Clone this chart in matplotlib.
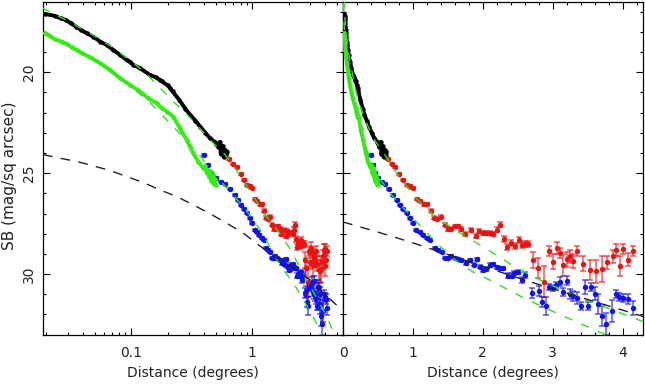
import matplotlib
matplotlib.use("Agg")
import matplotlib.pyplot as plt
from matplotlib.ticker import FixedLocator, NullFormatter, MultipleLocator, LogLocator, FixedFormatter

# ---------------- data ----------------
# inner profile 1 (black points)
black_r = [0.0195, 0.0236, 0.0263, 0.029, 0.0318, 0.0352, 0.0385, 0.0432, 0.049, 0.0555,
           0.063, 0.0715, 0.0812, 0.092, 0.0981, 0.1045, 0.1186, 0.143, 0.16, 0.173, 0.18,
           0.20, 0.21, 0.22, 0.25, 0.28, 0.307, 0.34, 0.371, 0.41, 0.448, 0.49, 0.50,
           0.52, 0.54, 0.55, 0.57, 0.58, 0.60, 0.61, 0.62]
black_sb = [17.11, 17.21, 17.33, 17.41, 17.57, 17.74, 17.90, 18.07, 18.24, 18.48,
            18.65, 18.90, 19.14, 19.39, 19.48, 19.64, 19.80, 20.13, 20.25, 20.38, 20.45,
            20.65, 20.79, 20.95, 21.37, 21.80, 22.11, 22.40, 22.69, 23.00, 23.27, 23.45, 23.55,
            23.68, 23.45, 24.05, 23.65, 24.20, 23.85, 24.10, 23.95]

# inner profile 2 (green points)
green_r = [0.0195, 0.0236, 0.0268, 0.0295, 0.0324, 0.0357, 0.0393, 0.0459, 0.0555, 0.0671,
           0.0812, 0.0981, 0.119, 0.139, 0.163, 0.179, 0.197, 0.223, 0.253, 0.287, 0.325,
           0.358, 0.394, 0.41, 0.42, 0.43, 0.44, 0.45, 0.46, 0.47, 0.48, 0.49, 0.50]
green_sb = [18.07, 18.37, 18.49, 18.60, 18.76, 18.90, 19.06, 19.26, 19.55, 19.89,
            20.30, 20.63, 20.96, 21.30, 21.53, 21.78, 21.95, 22.20, 22.77, 23.35, 24.00,
            24.43, 24.75, 24.65, 25.00, 24.85, 25.20, 24.95, 25.40, 25.15, 25.55, 25.30, 25.60]

# outer profile 1 (red points with errors)
red_r = [0.646, 0.70, 0.743, 0.80, 0.862, 0.91, 0.957, 0.995, 1.052, 1.10, 1.157, 1.205,
         1.257, 1.30, 1.35, 1.40, 1.457, 1.50, 1.55, 1.60, 1.645, 1.69, 1.74, 1.83, 1.90,
         1.95, 2.00, 2.05, 2.10, 2.15, 2.20, 2.25, 2.30, 2.35, 2.40, 2.46, 2.51, 2.56, 2.60,
         2.65, 2.71, 2.79, 2.88, 2.95, 3.00, 3.06, 3.10, 3.15, 3.20, 3.25, 3.29, 3.35, 3.43,
         3.53, 3.62, 3.70, 3.78, 3.86, 3.91, 3.96, 4.00, 4.08, 4.15]
red_sb = [24.28, 24.54, 24.72, 25.03, 25.33, 25.60, 25.66, 25.74, 26.27, 26.37, 26.55, 26.52,
          26.87, 27.20, 27.25, 27.15, 27.56, 27.77, 27.75, 27.64, 27.64, 27.77, 28.00, 27.82, 28.10,
          27.89, 27.97, 27.97, 27.97, 28.02, 27.80, 27.56, 28.28, 28.64, 28.47, 28.63, 28.32, 28.57, 28.50,
          28.50, 29.30, 29.70, 30.37, 28.88, 29.38, 28.70, 28.96, 29.54, 29.26, 29.12, 29.36, 28.88, 29.48,
          29.80, 29.87, 29.75, 29.42, 29.13, 28.83, 29.60, 28.76, 29.28, 28.88]
red_err = [0.05, 0.05, 0.05, 0.05, 0.05, 0.05, 0.05, 0.05, 0.06, 0.06, 0.06, 0.06,
           0.07, 0.07, 0.07, 0.07, 0.08, 0.08, 0.08, 0.08, 0.08, 0.09, 0.09, 0.10, 0.10,
           0.10, 0.10, 0.10, 0.10, 0.10, 0.12, 0.12, 0.15, 0.15, 0.15, 0.15, 0.15, 0.15, 0.15,
           0.15, 0.40, 0.50, 0.75, 0.25, 0.37, 0.30, 0.25, 0.55, 0.37, 0.33, 0.33, 0.25, 0.37,
           0.50, 0.55, 0.66, 0.33, 0.30, 0.30, 0.50, 0.25, 0.33, 0.25]

# outer profile 2 (blue points with errors)
blue_r = [0.40, 0.43, 0.46, 0.50, 0.552, 0.60, 0.657, 0.719, 0.767, 0.814, 0.862, 0.91, 0.957,
          1.00, 1.05, 1.10, 1.147, 1.205, 1.25, 1.31, 1.36, 1.41, 1.457, 1.50, 1.55, 1.60,
          1.645, 1.69, 1.76, 1.81, 1.87, 1.91, 1.96, 2.00, 2.05, 2.10, 2.15, 2.20, 2.25, 2.29,
          2.36, 2.41, 2.45, 2.50, 2.56, 2.60, 2.70, 2.80, 2.85, 2.90, 2.95, 3.00, 3.05, 3.10,
          3.15, 3.20, 3.24, 3.29, 3.35, 3.40, 3.46, 3.50, 3.55, 3.60, 3.65, 3.70, 3.76, 3.85,
          3.90, 3.95, 4.00, 4.08, 4.15]
blue_sb = [24.10, 24.60, 25.00, 25.25, 25.42, 25.52, 25.80, 26.07, 26.32, 26.57, 26.78, 26.98, 27.23,
           27.45, 27.84, 27.92, 28.05, 28.22, 28.30, 28.71, 28.80, 28.93, 29.20, 29.20, 29.10, 29.20,
           29.25, 29.30, 29.46, 29.30, 29.54, 29.26, 29.63, 29.82, 29.75, 29.55, 29.52, 29.66, 29.72, 29.72,
           30.08, 30.08, 29.95, 29.90, 30.28, 30.05, 30.92, 30.86, 31.37, 31.60, 30.62, 30.68, 30.52, 30.37,
           30.90, 30.32, 30.99, 31.10, 31.19, 31.57, 30.64, 31.60, 30.64, 30.98, 31.47, 32.06, 32.48, 31.85,
           30.98, 31.16, 31.19, 31.24, 31.68]
blue_err = [0.04, 0.04, 0.04, 0.04, 0.04, 0.04, 0.04, 0.04, 0.04, 0.04, 0.04, 0.04, 0.04,
            0.05, 0.05, 0.05, 0.05, 0.05, 0.05, 0.05, 0.05, 0.05, 0.06, 0.06, 0.06, 0.06,
            0.06, 0.06, 0.07, 0.07, 0.07, 0.07, 0.07, 0.08, 0.08, 0.08, 0.08, 0.08, 0.08, 0.08,
            0.12, 0.12, 0.12, 0.12, 0.15, 0.15, 0.25, 0.25, 0.25, 0.45, 0.15, 0.15, 0.15, 0.20,
            0.20, 0.20, 0.25, 0.25, 0.30, 0.20, 0.35, 0.20, 0.20, 0.33, 0.50, 0.50, 0.55, 0.55,
            0.20, 0.20, 0.20, 0.25, 0.35]

# model fits (green dashed): upper fits black+red, lower fits green+blue
model1_r = [0.008, 0.0195, 0.03, 0.05, 0.07, 0.1, 0.13, 0.185, 0.223, 0.28, 0.348, 0.448, 0.6,
            0.72, 0.84, 1.06, 1.31, 1.69, 2.05, 2.39, 2.79, 3.37, 4.1, 4.7, 5.6]
model1_sb = [15.6, 16.88, 17.45, 18.2, 18.75, 19.45, 20.0, 20.95, 21.45, 22.0, 22.6, 23.35, 24.1,
             24.75, 25.35, 26.3, 27.15, 28.0, 28.75, 29.5, 30.25, 31.15, 32.1, 32.9, 34.0]
model2_r = [0.008, 0.0195, 0.03, 0.05, 0.07, 0.1, 0.143, 0.2, 0.253, 0.35, 0.52, 0.71, 0.95,
            1.17, 1.38, 1.62, 1.86, 2.1, 2.4, 2.62, 3.0, 3.39, 3.72, 4.3]
model2_sb = [16.6, 18.0, 18.6, 19.4, 19.95, 20.7, 21.5, 22.4, 23.05, 23.95, 25.25, 26.15, 27.05,
             27.85, 28.6, 29.35, 29.9, 30.3, 30.85, 31.25, 31.85, 32.45, 32.95, 33.9]

# halo component (black dashed), as drawn in each panel
halo_log_r = [0.0188, 0.0259, 0.0357, 0.0489, 0.0671, 0.092, 0.126, 0.173, 0.238, 0.326, 0.448,
              0.615, 0.844, 1.12, 1.59, 2.05, 2.99, 3.84, 5.1, 5.6]
halo_log_sb = [24.08, 24.26, 24.42, 24.64, 24.87, 25.17, 25.46, 25.83, 26.16, 26.57, 27.01,
               27.48, 27.97, 28.55, 29.2, 29.6, 30.28, 30.94, 31.6, 31.75]
halo_lin_r = [0.0, 0.48, 0.95, 1.43, 1.9, 2.58, 3.44, 4.15, 4.29]
halo_lin_sb = [27.42, 27.9, 28.4, 28.95, 29.5, 30.28, 31.2, 31.95, 32.1]

# tick labels
left_xticks = [0.1, 1]
left_xticklabels = ["0.1", "1"]
right_xticks = [0, 1, 2, 3, 4]
right_xticklabels = ["0", "1", "2", "3", "4"]
yticks = [20, 25, 30]
yticklabels = ["20", "25", "30"]
xlabel = "Distance (degrees)"
ylabel = "SB (mag/sq arcsec)"

# ---------------- figure ----------------
W, H = 645, 384
fig = plt.figure(figsize=(W / 100, H / 100), dpi=100)
axL = fig.add_axes([43 / W, 49 / H, 300 / W, 333 / H])
axR = fig.add_axes([343 / W, 49 / H, 300 / W, 333 / H])

RED = "#ee1111"
BLUE = "#1111ee"
GREEN = "#33ee11"
MGREEN = "#33dd22"
TXT = "#222222"

for ax in (axL, axR):
    ax.errorbar(red_r, red_sb, yerr=red_err, fmt="none", ecolor=RED, elinewidth=1.1,
                capsize=2.2, capthick=1.1, alpha=0.7, zorder=2)
    ax.plot(red_r, red_sb, "o", ms=3.9, color=RED, mec="none", zorder=3)
    ax.errorbar(blue_r, blue_sb, yerr=blue_err, fmt="none", ecolor=BLUE, elinewidth=1.1,
                capsize=2.2, capthick=1.1, alpha=0.7, zorder=2)
    ax.plot(blue_r, blue_sb, "o", ms=3.9, color=BLUE, mec="none", zorder=3)
    ax.plot(black_r, black_sb, "-", lw=2.8, color="black", zorder=4)
    ax.plot(black_r, black_sb, "o", ms=3.2, color="black", mec="none", zorder=4)
    ax.plot(green_r, green_sb, "-", lw=2.8, color=GREEN, zorder=4)
    ax.plot(green_r, green_sb, "o", ms=3.2, color=GREEN, mec="none", zorder=4)
    ax.plot(model1_r, model1_sb, ls=(0, (6, 7)), lw=1.0, color=MGREEN, zorder=5)
    ax.plot(model2_r, model2_sb, ls=(0, (6, 7)), lw=1.0, color=MGREEN, zorder=5)

axL.plot(halo_log_r, halo_log_sb, ls=(0, (7, 6)), lw=1.0, color="#222222", zorder=5)
axR.plot(halo_lin_r, halo_lin_sb, ls=(0, (7, 6)), lw=1.0, color="#222222", zorder=5)

axL.set_xscale("log")
axL.set_xlim(0.0188, 5.6)
axR.set_xlim(0, 4.29)
for ax in (axL, axR):
    ax.set_ylim(33.02, 16.52)
    ax.yaxis.set_major_locator(FixedLocator(yticks))
    ax.yaxis.set_minor_locator(MultipleLocator(1))
    ax.tick_params(which="both", direction="in", top=True, right=True, colors="black",
                   labelcolor=TXT, labelsize=10, width=0.8)
    ax.tick_params(which="major", length=4.8)
    ax.tick_params(which="minor", length=2.4)
    for sp in ax.spines.values():
        sp.set_linewidth(0.9)
    ax.set_xlabel(xlabel, fontsize=10, color=TXT, labelpad=4)

axL.xaxis.set_major_locator(FixedLocator(left_xticks))
axL.xaxis.set_major_formatter(FixedFormatter(left_xticklabels))
axL.xaxis.set_minor_locator(LogLocator(base=10, subs=[2, 3, 4, 5, 6, 7, 8, 9], numticks=20))
axL.xaxis.set_minor_formatter(NullFormatter())
axL.yaxis.set_major_formatter(FixedFormatter(yticklabels))
axL.tick_params(axis="y", labelrotation=90, pad=5)
for lbl in axL.get_yticklabels():
    lbl.set_va("center")

axR.xaxis.set_major_locator(FixedLocator(right_xticks))
axR.xaxis.set_major_formatter(FixedFormatter(right_xticklabels))
axR.xaxis.set_minor_locator(MultipleLocator(0.2))
axR.tick_params(axis="y", labelleft=False)
for ax in (axL, axR):
    ax.tick_params(axis="x", pad=8)

fig.text(10 / W, 1 - 176 / H, ylabel, rotation=90, ha="center", va="center",
         fontsize=11, color=TXT)

fig.savefig("out.png", dpi=100)
